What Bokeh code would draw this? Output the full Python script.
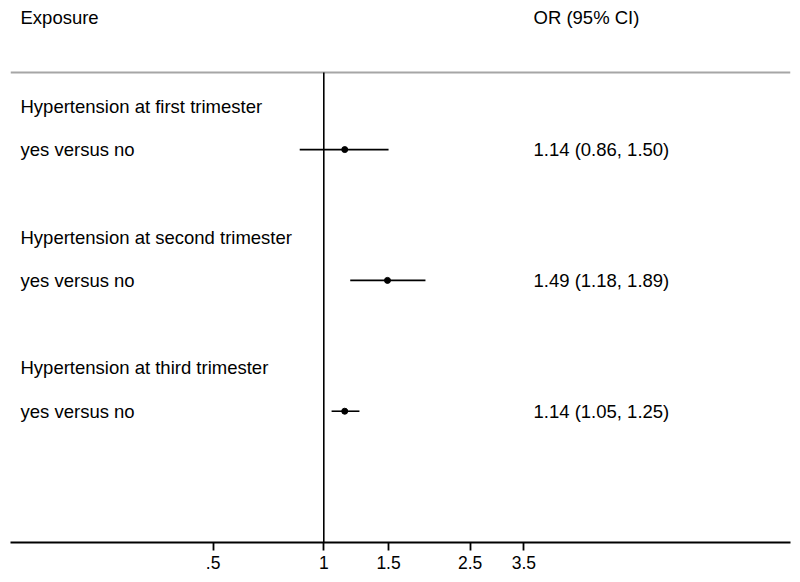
import math
from bokeh.plotting import figure
from bokeh.models import Range1d, FixedTicker
from bokeh.core.properties import value
from bokeh.embed import file_html
from bokeh.resources import INLINE

# ---- data ----
group_labels = ["Hypertension at first trimester",
                "Hypertension at second trimester",
                "Hypertension at third trimester"]
row_labels = ["yes versus no", "yes versus no", "yes versus no"]
odds_ratio = [1.14, 1.49, 1.14]
ci_low = [0.86, 1.18, 1.05]
ci_high = [1.50, 1.89, 1.25]
ci_text = ["1.14 (0.86, 1.50)", "1.49 (1.18, 1.89)", "1.14 (1.05, 1.25)"]
header_left = "Exposure"
header_right = "OR (95% CI)"
tick_values = [0.5, 1, 1.5, 2.5, 3.5]
tick_labels = [".5", "1", "1.5", "2.5", "3.5"]

rows = list(range(1, len(odds_ratio) + 1))

# ---- layout constants ----
FONT = value("Liberation Sans")
FS = "18.5px"
px_per_ln = 159.7
x_null_px = 313.3            # position of OR=1 from frame left
frame_w = 780
x_start = math.exp(-x_null_px / px_per_ln)
x_end = math.exp((frame_w - x_null_px) / px_per_ln)
x_label = math.exp((10.0 - x_null_px) / px_per_ln)
x_ci = math.exp((523 - x_null_px) / px_per_ln)
shift = 7 / 130.75           # text baseline correction

p = figure(frame_width=frame_w, frame_height=534,
           x_axis_type="log",
           x_range=Range1d(x_start, x_end),
           y_range=Range1d(4.0034, -0.0784),
           y_axis_location=None,
           output_backend="svg", toolbar_location=None,
           min_border_left=10, min_border_right=2, min_border_top=8,
           min_border_bottom=0)
p.outline_line_color = None
p.xgrid.visible = False
p.ygrid.visible = False
p.background_fill_color = "white"

# x axis
ax = p.xaxis[0]
ax.ticker = FixedTicker(ticks=tick_values, minor_ticks=[])
ax.major_label_overrides = {float(t): l for t, l in zip(tick_values, tick_labels)}
ax.axis_line_color = "black"
ax.axis_line_width = 1.8
ax.major_tick_line_color = "black"
ax.major_tick_line_width = 1.8
ax.major_tick_in = 0
ax.major_tick_out = 8
ax.minor_tick_line_color = None
ax.major_label_text_font = "Liberation Sans"
ax.major_label_text_font_size = "17.5px"
ax.major_label_text_color = "black"
ax.major_label_standoff = 5

# gray header separator
sep_y = 0.411
p.segment(x0=[x_start], y0=[sep_y], x1=[x_end], y1=[sep_y],
          line_color="#a6a6a6", line_width=2)

# null line at OR = 1
p.segment(x0=[1], y0=[sep_y], x1=[1], y1=[4.0034],
          line_color="black", line_width=1.6)

# confidence intervals and estimates
p.segment(x0=ci_low, y0=rows, x1=ci_high, y1=rows,
          line_color="black", line_width=1.6)
p.scatter(x=odds_ratio, y=rows, size=6, marker="circle",
          fill_color="black", line_color="black")

# headers
hdr_y = 0.044 - shift
p.text(x=[x_label], y=[hdr_y], text=[header_left], text_font=FONT,
       text_font_size=FS, text_color="black", text_baseline="alphabetic")
p.text(x=[x_ci], y=[hdr_y], text=[header_right], text_font=FONT,
       text_font_size=FS, text_color="black", text_baseline="alphabetic")

# group labels and rows
p.text(x=[x_label] * len(rows), y=[r - 0.2776 - shift for r in rows], text=group_labels,
       text_font=FONT, text_font_size=FS, text_color="black",
       text_baseline="alphabetic")
p.text(x=[x_label] * len(rows), y=[r + 0.052 - shift for r in rows], text=row_labels,
       text_font=FONT, text_font_size=FS, text_color="black",
       text_baseline="alphabetic")
p.text(x=[x_ci] * len(rows), y=[r + 0.052 - shift for r in rows], text=ci_text,
       text_font=FONT, text_font_size=FS, text_color="black",
       text_baseline="alphabetic")

open("out.html", "w").write(file_html(p, INLINE))
